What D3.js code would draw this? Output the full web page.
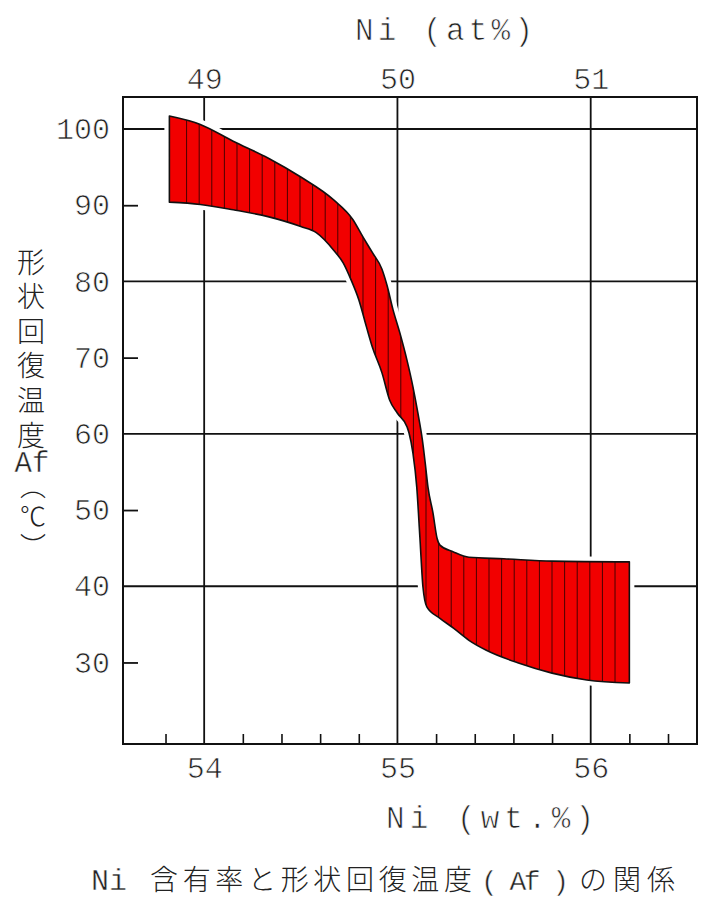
<!DOCTYPE html>
<html>
<head>
<meta charset="utf-8">
<script src="https://cdn.jsdelivr.net/npm/d3@7"></script>
<style>
  body { margin: 0; background: #fff; }
</style>
</head>
<body>
<svg id="main"></svg>
<script>
const width = 713;
const height = 922;

const plot = { left: 123, right: 697, top: 97, bottom: 744 };

// DATA -------------------------------------------
// upper edge of the Af band (Ni wt.% , degC)
const upperWt = [53.82, 53.98, 54.15, 54.33, 54.50, 54.67, 54.77, 54.82, 54.87, 54.92, 54.946, 54.977,
    55.013, 55.049, 55.080, 55.106, 55.129, 55.145, 55.158, 55.184, 55.205, 55.22, 55.29, 55.37, 55.55, 55.80, 56.20];
const upperAf = [101.7, 100.6, 98.4, 96.2, 93.7, 90.7, 88.1, 85.9, 83.8, 81.6, 79.5, 76.3,
    73.2, 69.7, 66.2, 62.7, 59.2, 55.9, 53.0, 49.6, 46.3, 45.4, 44.5, 43.8, 43.6, 43.3, 43.2];

// lower edge of the Af band
const lowerWt = [53.82, 53.98, 54.15, 54.33, 54.50, 54.58, 54.67, 54.72, 54.76, 54.80, 54.84, 54.87,
    54.92, 54.96, 55.00, 55.05, 55.06, 55.08, 55.10, 55.116, 55.132, 55.152, 55.22, 55.29, 55.37,
    55.46, 55.63, 55.80, 55.98, 56.20];
const lowerAf = [90.4, 90.1, 89.4, 88.5, 87.2, 86.4, 84.1, 82.4, 80.2, 77.6, 74.0, 71.4,
    68.0, 64.4, 62.7, 60.9, 60.1, 57.5, 53.0, 46.5, 39.9, 37.3, 35.8, 34.5, 32.9,
    31.6, 29.9, 28.6, 27.7, 27.3];

// axes
const afLabels = [30, 40, 50, 60, 70, 80, 90, 100];
const afGrid = [40, 60, 80, 100];
const afShort = [30, 50, 70, 90];
const wtLabels = [54, 55, 56];
const wtMinor = [53.8, 54.2, 54.4, 54.6, 54.8, 55.2, 55.4, 55.6, 55.8, 56.2, 56.4];
const atLabels = [49, 50, 51];

const numFont = '"Liberation Mono", "DejaVu Sans Mono", monospace';
const jpFont = '"Noto Sans CJK JP", "Noto Sans", sans-serif';

// SVG --------------------------------------------
const svg = d3.select('svg#main')
    .attr('width', width)
    .attr('height', height)
    .style('background', '#fff');

const x = d3.scaleLinear().domain([53.58, 56.55]).range([plot.left, plot.right]);
const xAt = d3.scaleLinear().domain([49, 51]).range([x(54), x(56)]);
const y = d3.scaleLinear().domain([19.3, 104.2]).range([plot.bottom, plot.top]);

// thin the mono glyphs a little so they look like the printed figure
function thin(sel, w = 0.7) {
    sel.attr('stroke', '#fff')
        .attr('stroke-width', w)
        .style('paint-order', 'normal');
}

// grid lines
svg.append('g')
    .selectAll('line')
    .data(afGrid)
    .enter()
    .append('line')
    .attr('x1', plot.left)
    .attr('x2', plot.right)
    .attr('y1', d => y(d))
    .attr('y2', d => y(d))
    .attr('stroke', '#111')
    .attr('stroke-width', 1.8);

svg.append('g')
    .selectAll('line')
    .data(wtLabels)
    .enter()
    .append('line')
    .attr('x1', d => x(d))
    .attr('x2', d => x(d))
    .attr('y1', plot.top)
    .attr('y2', plot.bottom)
    .attr('stroke', '#111')
    .attr('stroke-width', 1.8);

// short ticks on the left, minor ticks at the bottom (pointing inward)
const leftTicks = svg.append('g')
    .attr('transform', `translate(${plot.left},0)`)
    .call(d3.axisLeft(y).tickValues(afShort).tickSize(-15).tickFormat(''));
leftTicks.select('.domain').remove();
leftTicks.selectAll('line').attr('stroke', '#111').attr('stroke-width', 1.8);

const bottomTicks = svg.append('g')
    .attr('transform', `translate(0,${plot.bottom})`)
    .call(d3.axisBottom(x).tickValues(wtMinor).tickSize(-10).tickFormat(''));
bottomTicks.select('.domain').remove();
bottomTicks.selectAll('line').attr('stroke', '#111').attr('stroke-width', 1.6);

// BAND -------------------------------------------
const edge = d3.line().curve(d3.curveMonotoneX);
const upperPts = upperWt.map((w, i) => [x(w), y(upperAf[i])]);
const lowerPts = lowerWt.map((w, i) => [x(w), y(lowerAf[i])]);
// upper edge left->right, then lower edge right->left (mirrored so monotoneX accepts it)
const lowerBack = edge(lowerPts.slice().reverse().map(p => [-p[0], p[1]]))
    .replace(/(-?[\d.]+),(-?[\d.]+)/g, (m, a, b) => `${-a},${b}`);
const bandPath = edge(upperPts) + 'L' + lowerBack.slice(1) + 'Z';

// white margin so grid lines stop short of the band
svg.append('path')
    .attr('d', bandPath)
    .attr('fill', '#fff')
    .attr('stroke', '#fff')
    .attr('stroke-width', 10)
    .attr('stroke-linejoin', 'round');

svg.append('clipPath')
    .attr('id', 'band-clip')
    .append('path')
    .attr('d', bandPath);

svg.append('path')
    .attr('d', bandPath)
    .attr('fill', '#f20000');

svg.append('g')
    .attr('clip-path', 'url(#band-clip)')
    .selectAll('line')
    .data(d3.range(53.909, 56.19, 0.0652))
    .enter()
    .append('line')
    .attr('x1', d => x(d))
    .attr('x2', d => x(d))
    .attr('y1', plot.top)
    .attr('y2', plot.bottom)
    .attr('stroke', '#4a0000')
    .attr('stroke-width', 1);

svg.append('path')
    .attr('d', bandPath)
    .attr('fill', 'none')
    .attr('stroke', '#111')
    .attr('stroke-width', 1.6)
    .attr('stroke-linejoin', 'round');

// frame
svg.append('rect')
    .attr('x', plot.left)
    .attr('y', plot.top)
    .attr('width', plot.right - plot.left)
    .attr('height', plot.bottom - plot.top)
    .attr('fill', 'none')
    .attr('stroke', '#111')
    .attr('stroke-width', 2);

// AXIS LABELS ------------------------------------
function styleNums(g) {
    g.select('.domain').remove();
    g.selectAll('line').remove();
    g.selectAll('text')
        .style('font-family', numFont)
        .style('font-size', '30px')
        .attr('fill', '#222')
        .call(thin);
}

svg.append('g')
    .attr('transform', `translate(${plot.left},0)`)
    .call(d3.axisLeft(y).tickValues(afLabels).tickSize(0).tickPadding(13).tickFormat(d3.format('d')))
    .call(styleNums);

svg.append('g')
    .attr('transform', `translate(0,${plot.bottom})`)
    .call(d3.axisBottom(x).tickValues(wtLabels).tickSize(0).tickFormat(d3.format('d')))
    .call(styleNums)
    .selectAll('text')
    .attr('y', 34)
    .attr('dy', 0);

svg.append('g')
    .attr('transform', `translate(0,${plot.top})`)
    .call(d3.axisTop(xAt).tickValues(atLabels).tickSize(0).tickFormat(d3.format('d')))
    .call(styleNums)
    .selectAll('text')
    .attr('y', -8)
    .attr('dy', 0);

// titles
svg.append('text')
    .text('Ni (at%)')
    .attr('x', 355)
    .attr('y', 40)
    .attr('textLength', 178)
    .attr('lengthAdjust', 'spacing')
    .style('font-family', numFont)
    .style('font-size', '31px')
    .attr('fill', '#222')
    .call(thin);

svg.append('text')
    .text('Ni (wt.%)')
    .attr('x', 386)
    .attr('y', 828)
    .attr('textLength', 208)
    .attr('lengthAdjust', 'spacing')
    .style('font-family', numFont)
    .style('font-size', '31px')
    .attr('fill', '#222')
    .call(thin);

// vertical y title, written top to bottom
svg.append('text')
    .text('形状回復温度')
    .attr('x', 31)
    .attr('y', 248)
    .style('writing-mode', 'vertical-rl')
    .style('letter-spacing', '6.6px')
    .style('font-family', jpFont)
    .style('font-weight', 300)
    .style('font-size', '28px')
    .attr('fill', '#222');

svg.append('text')
    .text('Af')
    .attr('x', 32)
    .attr('y', 472)
    .attr('text-anchor', 'middle')
    .style('font-family', numFont)
    .style('font-size', '29px')
    .attr('fill', '#222')
    .call(thin, 0.45);

svg.append('text')
    .text('︵℃︶')
    .attr('x', 33)
    .attr('y', 518)
    .attr('text-anchor', 'middle')
    .style('writing-mode', 'vertical-rl')
    .style('letter-spacing', '4px')
    .style('font-family', jpFont)
    .style('font-weight', 300)
    .style('font-size', '26px')
    .attr('fill', '#222');

// caption (runs off the right edge like the scan)
const caption = svg.append('g')
    .attr('fill', '#222');

caption.append('text')
    .text('Ni')
    .attr('x', 91)
    .attr('y', 890)
    .attr('textLength', 36)
    .attr('lengthAdjust', 'spacing')
    .style('font-family', numFont)
    .style('font-size', '30px')
    .call(thin, 0.45);

caption.append('text')
    .text('含有率と形状回復温度')
    .attr('x', 150)
    .attr('y', 890)
    .attr('textLength', 322)
    .attr('lengthAdjust', 'spacing')
    .style('font-family', jpFont)
    .style('font-weight', 300)
    .style('font-size', '28px');

caption.append('text')
    .text('( Af )')
    .attr('x', 481)
    .attr('y', 890)
    .attr('textLength', 88)
    .attr('lengthAdjust', 'spacing')
    .style('font-family', numFont)
    .style('font-size', '28px')
    .call(thin, 0.45);

caption.append('text')
    .text('の関係')
    .attr('x', 579)
    .attr('y', 890)
    .attr('textLength', 96)
    .attr('lengthAdjust', 'spacing')
    .style('font-family', jpFont)
    .style('font-weight', 300)
    .style('font-size', '28px');
</script>
</body>
</html>
